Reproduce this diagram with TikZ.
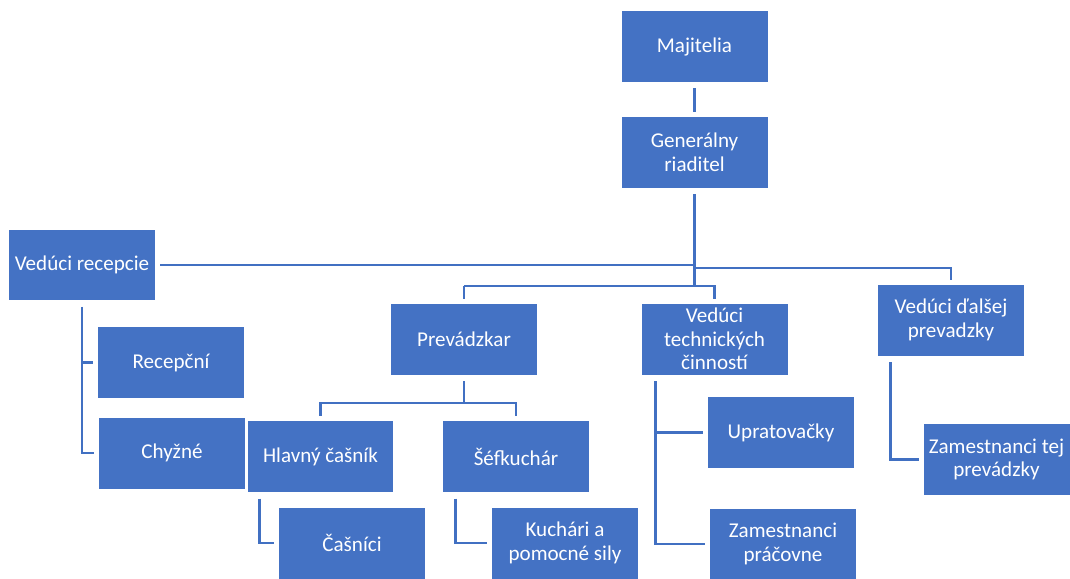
\documentclass[tikz,border=0pt]{standalone}
\usepackage{fontspec}
\setmainfont{Carlito}
\definecolor{boxblue}{HTML}{4472C4}
\definecolor{lineblue}{HTML}{4170C2}
\tikzset{
    box/.style={fill=boxblue, text=white, minimum width=2.92cm, minimum height=1.42cm,
        inner sep=1pt, align=center, font=\fontsize{12}{13.5}\selectfont},
    link/.style={draw=lineblue, line width=1.6pt, shorten <=3.5pt, shorten >=2.5pt}
}

\begin{document}
\begin{tikzpicture}[x=0.02cm, y=-0.02cm]
    \useasboundingbox(0, 0) rectangle (1070, 578);
    \node[box](maj)at(694.5, 46.5){Majitelia};
    \node[box](gen)at(694.5, 152.5){Generálny\\riaditel};
    \node[box](rec)at(82, 265){Vedúci recepcie};
    \node[box](recp)at(171, 362.5){Recepční};
    \node[box](chy)at(172, 453){Chyžné};
    \node[box](prev)at(464, 339){Prevádzkar};
    \node[box](tech)at(714.5, 339){Vedúci\\technických\\činností};
    \node[box](dal)at(951, 320){Vedúci ďalšej\\prevadzky};
    \node[box](hc)at(320.5, 456.5){Hlavný čašník};
    \node[box](sef)at(516, 456.5){Šéfkuchár};
    \node[box](cas)at(352, 543){Čašníci};
    \node[box](kuch)at(565, 543){Kuchári a\\pomocné sily};
    \node[box](upr)at(781, 432.5){Upratovačky};
    \node[box](prac)at(783, 544){Zamestnanci\\práčovne};
    \node[box](zam)at(996.5, 459.5){Zamestnanci tej\\prevádzky};
    % branch points
    \coordinate(bd)at(951, 268);
    \coordinate(bp)at(464, 286);
    \coordinate(bt)at(714.5, 286);
    \coordinate(bk)at(464, 403);
    \draw[link](maj)--(gen);
    \draw[link](gen.south)|-(rec.east);
    \draw[link](gen.south)|-(bd)--(dal.north);
    \draw[link, shorten >=0pt](gen.south)|-(bp);
    \draw[link, shorten <=0pt](bp)--(prev.north);
    \draw[link, shorten <=0pt](bp)-|(tech.north);
    \draw[link](rec.south)|-(recp.west);
    \draw[link](rec.south)|-(chy.west);
    \draw[link, shorten >=0pt](prev.south)--(bk);
    \draw[link, shorten <=0pt](bk)-|(hc.north);
    \draw[link, shorten <=0pt](bk)-|(sef.north);
    \draw[link]([xshift=0.24cm]hc.south west)|-(cas.west);
    \draw[link]([xshift=0.26cm]sef.south west)|-(kuch.west);
    \draw[link]([xshift=0.28cm]tech.south west)|-(upr.west);
    \draw[link]([xshift=0.28cm]tech.south west)|-(prac.west);
    \draw[link]([xshift=0.26cm]dal.south west)|-(zam.west);
\end{tikzpicture}
\end{document}
